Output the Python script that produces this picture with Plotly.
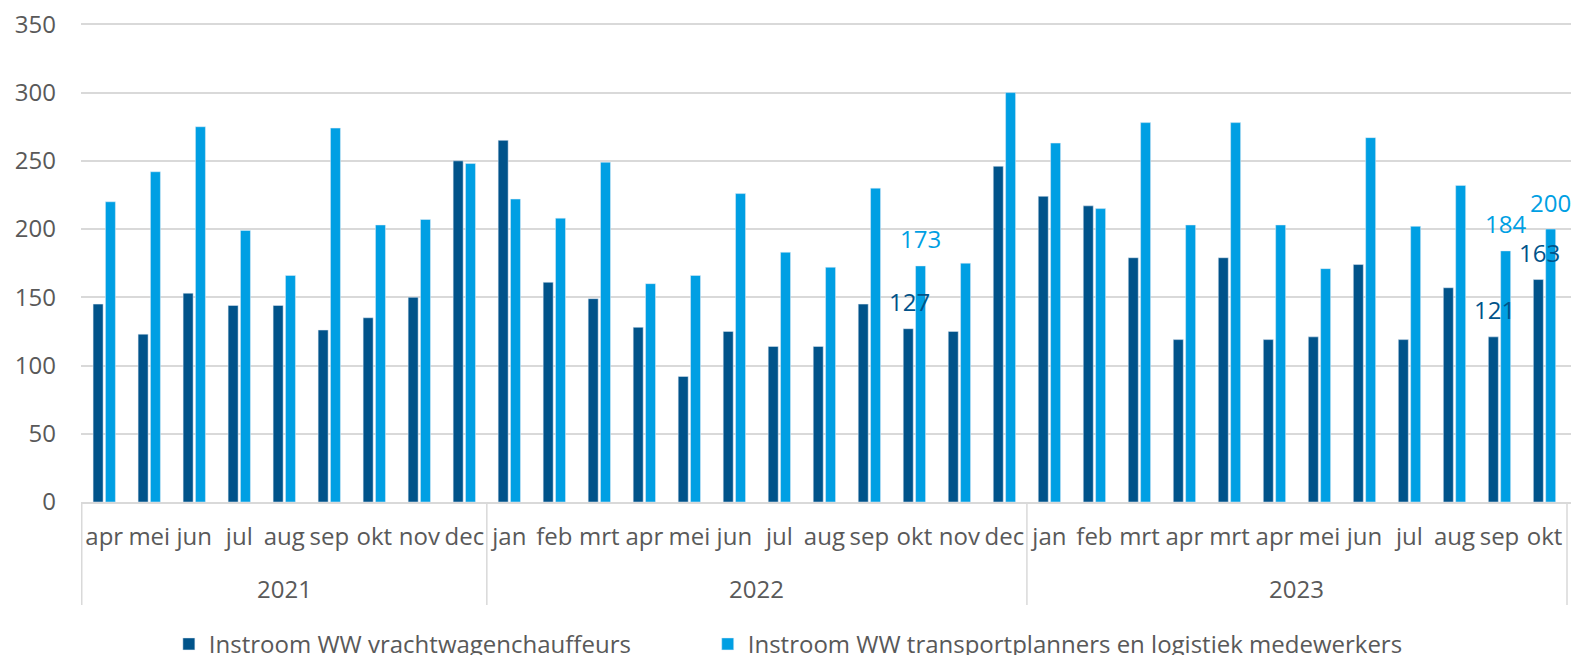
import plotly.graph_objects as go

years = ["2021"] * 9 + ["2022"] * 12 + ["2023"] * 12
months = ["apr", "mei", "jun", "jul", "aug", "sep", "okt", "nov", "dec",
          "jan", "feb", "mrt", "apr", "mei", "jun", "jul", "aug", "sep", "okt", "nov", "dec",
          "jan", "feb", "mrt", "apr", "mrt", "apr", "mei", "jun", "jul", "aug", "sep", "okt"]

chauffeurs = [145, 123, 153, 144, 144, 126, 135, 150, 250,
              265, 161, 149, 128, 92, 125, 114, 114, 145, 127, 125, 246,
              224, 217, 179, 119, 179, 119, 121, 174, 119, 157, 121, 163]
planners = [220, 242, 275, 199, 166, 274, 203, 207, 248,
            222, 208, 249, 160, 166, 226, 183, 172, 230, 173, 175, 300,
            263, 215, 278, 203, 278, 203, 171, 267, 202, 232, 184, 200]

# indices of categories that carry data labels
label_idx = [18, 31, 32]

# unique category keys (zero-width spaces keep the visible month text unchanged)
seen = {}
cat_keys = []
for m in months:
    k = seen.get(m, 0)
    cat_keys.append(m + "\u200b" * k)
    seen[m] = k + 1

# year groups: (year, first index, last index)
groups = []
for i, y in enumerate(years):
    if groups and groups[-1][0] == y:
        groups[-1][2] = i
    else:
        groups.append([y, i, i])

DARK = "#00538A"
LIGHT = "#009FE3"
GREY = "#595959"
LINE = "#D9D9D9"
FONT = "Open Sans"

# the page body has an 8px margin; the figure is sized to fill the rest of the window
W, H = 1571, 647
ML, MR, MT, MB = 72.6, 5.8, 14.6, 153
plot_h = H - MT - MB

fig = go.Figure()
fig.add_trace(go.Bar(x=cat_keys, y=chauffeurs, name="Instroom WW vrachtwagenchauffeurs",
                     marker_color=DARK, legend="legend"))
fig.add_trace(go.Bar(x=cat_keys, y=planners,
                     name="Instroom WW transportplanners en logistiek medewerkers",
                     marker_color=LIGHT, legend="legend2"))

annotations = []
for i in label_idx:
    annotations.append(dict(x=i, y=chauffeurs[i], xref="x", yref="y", text=str(chauffeurs[i]),
                            showarrow=False, xshift=-5, yshift=27, yanchor="middle",
                            font=dict(family=FONT, size=24, color=DARK)))
    annotations.append(dict(x=i, y=planners[i], xref="x", yref="y", text=str(planners[i]),
                            showarrow=False, xshift=6, yshift=27, yanchor="middle",
                            font=dict(family=FONT, size=24, color=LIGHT)))

shapes = []
div_depth = 103 / plot_h
for yr, a, b in groups:
    annotations.append(dict(x=(a + b) / 2, y=0, xref="x", yref="paper", text=yr,
                            showarrow=False, yanchor="middle", yshift=-86,
                            font=dict(family=FONT, size=24, color=GREY)))
    shapes.append(dict(type="line", xref="x", yref="paper", x0=a - 0.5, x1=a - 0.5,
                       y0=0, y1=-div_depth, line=dict(color=LINE, width=1.5)))
shapes.append(dict(type="line", xref="x", yref="paper", x0=groups[-1][2] + 0.5,
                   x1=groups[-1][2] + 0.5, y0=0, y1=-div_depth, line=dict(color=LINE, width=1.5)))

legend_style = dict(orientation="h", xref="container", yref="container", xanchor="left",
                    y=0.0165, yanchor="middle", font=dict(family=FONT, size=24, color=GREY),
                    itemwidth=30, bgcolor="rgba(0,0,0,0)")

fig.update_layout(
    width=W, height=H,
    margin=dict(l=ML, r=MR, t=MT, b=MB),
    plot_bgcolor="white", paper_bgcolor="white",
    barmode="group", bargap=0.452, bargroupgap=0.19,
    font=dict(family=FONT, size=24, color=GREY),
    showlegend=True,
    legend=dict(x=0.1024, **legend_style),
    legend2=dict(x=0.4454, **legend_style),
    annotations=annotations,
    shapes=shapes,
)
fig.update_yaxes(range=[0, 351], tickvals=list(range(0, 351, 50)), showgrid=True,
                 gridcolor=LINE, gridwidth=1.5, zeroline=False, showline=False,
                 ticklabelstandoff=24, automargin=False, ticklabeloverflow="allow",
                 tickfont=dict(family=FONT, size=24, color=GREY))
fig.update_xaxes(type="category", showline=True, linecolor=LINE, linewidth=1.5,
                 showgrid=False, automargin=False, tickangle=0, ticklabelstandoff=12,
                 tickfont=dict(family=FONT, size=24, color=GREY))

fig.write_html("out.html")
